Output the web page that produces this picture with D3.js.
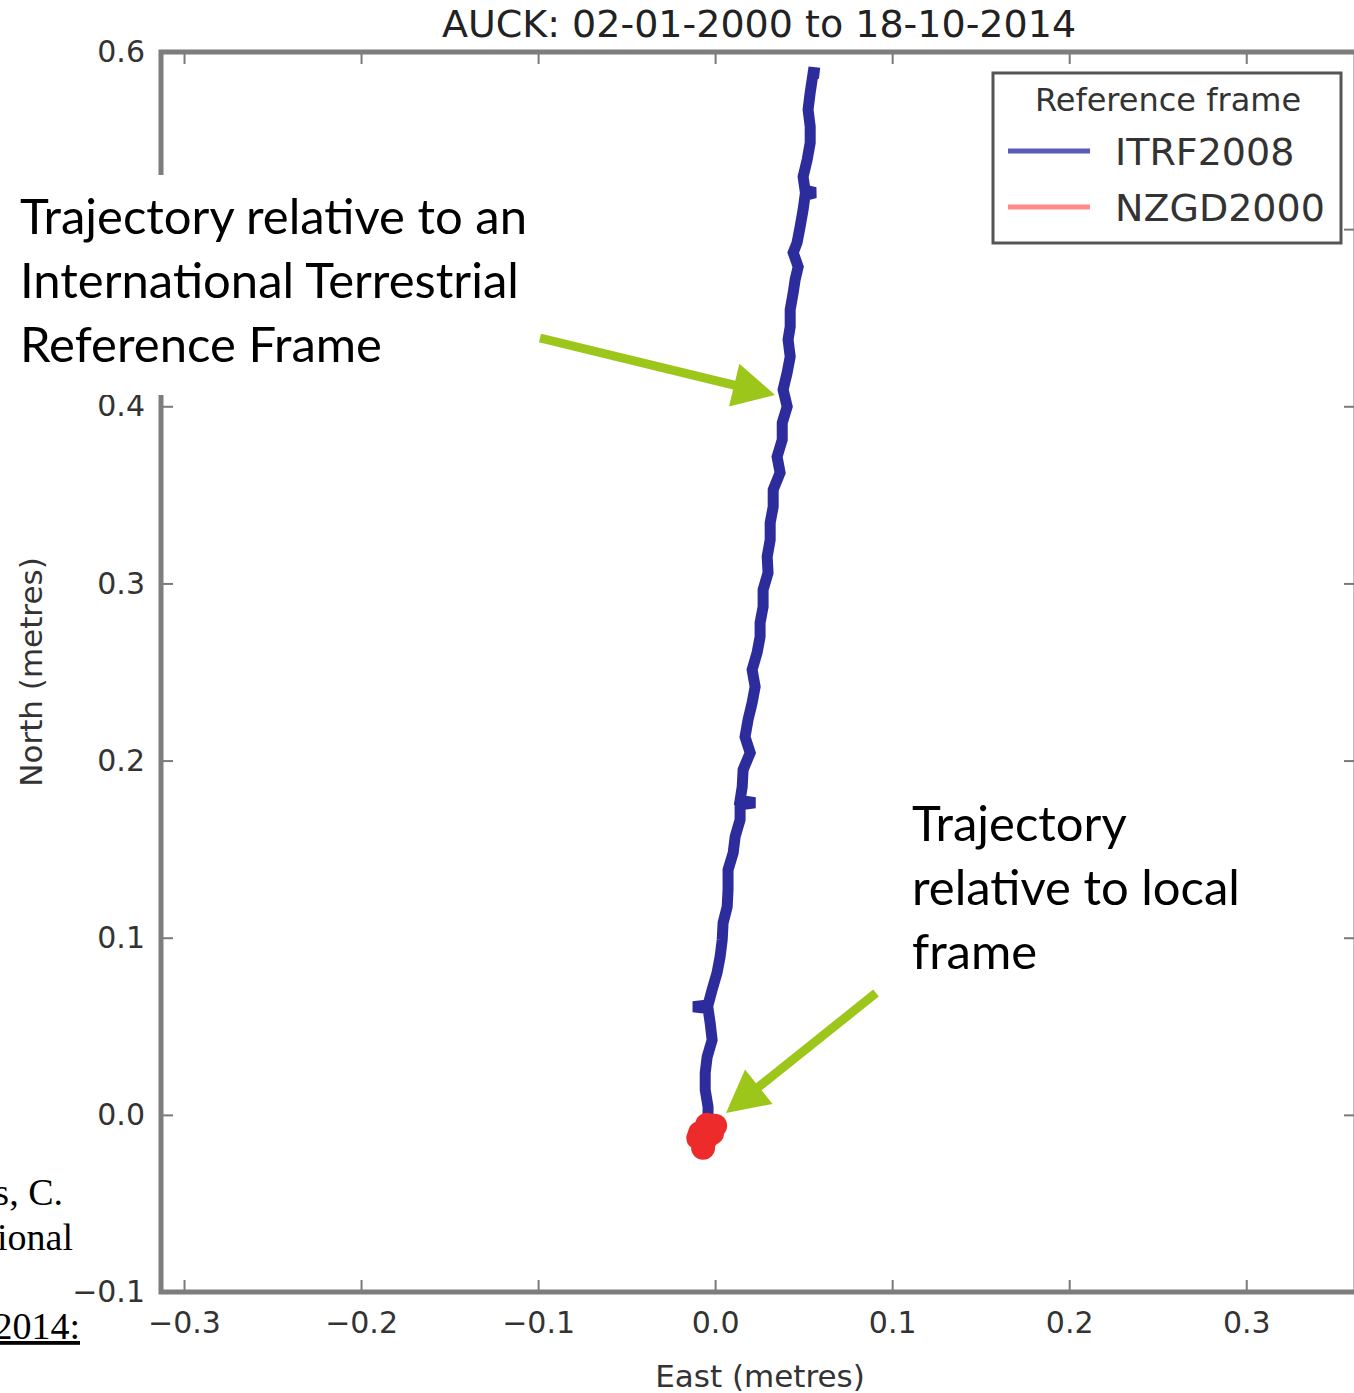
<!DOCTYPE html>
<html>
<head>
<meta charset="utf-8">
<script src="https://cdn.jsdelivr.net/npm/d3@7"></script>
<style>
  body { margin: 0; background: #fff; }
  svg { display: block; }
</style>
</head>
<body>
<div id="chart"></div>
<script>
const chartTitle = "AUCK: 02-01-2000 to 18-10-2014";
const xLabel = "East (metres)";
const yLabel = "North (metres)";
const xTicks = [-0.3, -0.2, -0.1, 0.0, 0.1, 0.2, 0.3];
const yTicks = [-0.1, 0.0, 0.1, 0.2, 0.3, 0.4, 0.5, 0.6];
const hiddenYLabels = [0.5]; // covered by the annotation box in the original
const legendTitle = "Reference frame";
const seriesNames = ["ITRF2008", "NZGD2000"];

// [east, north] in metres (oldest first)
const itrf2008 = [
  [-0.004, 0.000], [-0.004, 0.0045], [-0.0056, 0.0141], [-0.0056, 0.0237],
  [-0.0045, 0.0327], [-0.0017, 0.0423], [-0.0028, 0.0519], [-0.004, 0.0600],
  [-0.0124, 0.0610], [-0.004, 0.0620], [-0.0017, 0.0706], [0.0011, 0.0802],
  [0.0028, 0.0892], [0.0040, 0.0988], [0.0045, 0.1084], [0.0068, 0.1174],
  [0.0073, 0.1270], [0.0073, 0.1383], [0.0102, 0.1479], [0.0113, 0.1570],
  [0.0141, 0.1666], [0.0141, 0.1750], [0.0225, 0.1762], [0.0141, 0.1775],
  [0.0153, 0.1852], [0.0158, 0.1948], [0.0198, 0.2044], [0.0169, 0.2134],
  [0.0186, 0.2230], [0.0209, 0.2326], [0.0226, 0.2417], [0.0209, 0.2513],
  [0.0237, 0.2609], [0.0254, 0.2699], [0.0254, 0.2778], [0.0271, 0.2868],
  [0.0271, 0.2964], [0.0299, 0.3060], [0.0294, 0.3151], [0.0311, 0.3247],
  [0.0311, 0.3343], [0.0328, 0.3433], [0.0328, 0.3529], [0.0367, 0.3625],
  [0.0350, 0.3715], [0.0379, 0.3811], [0.0379, 0.3907], [0.0407, 0.3998],
  [0.0384, 0.4094], [0.0407, 0.4190], [0.0424, 0.4280], [0.0412, 0.4376],
  [0.0424, 0.4449], [0.0424, 0.4545], [0.0441, 0.4641], [0.0452, 0.4715],
  [0.0469, 0.4788], [0.0441, 0.4867], [0.0463, 0.4924], [0.0480, 0.5014],
  [0.0497, 0.5110], [0.0508, 0.5190], [0.0565, 0.5206], [0.0508, 0.5220],
  [0.0497, 0.5296], [0.0520, 0.5392], [0.0537, 0.5488], [0.0537, 0.5579],
  [0.0525, 0.5675], [0.0537, 0.5771], [0.0554, 0.5884], [0.0590, 0.5880]
];

const nzgd2000 = [
  [-0.0045, -0.0056], [-0.0085, -0.0102], [-0.0017, -0.0102],
  [-0.0050, -0.0110], [-0.0056, -0.0141], [-0.0068, -0.0186],
  [0.0000, -0.0062], [-0.0095, -0.0130]
];

const width = 1354, height = 1393;
const plot = { left: 161, top: 52, right: 1356, bottom: 1292 };
const tickFont = "'DejaVu Sans', sans-serif";
const noteFont = "Lato, 'Open Sans', sans-serif";

const x = d3.scaleLinear().domain([-0.313, 0.362]).range([plot.left, plot.right]);
const y = d3.scaleLinear().domain([-0.1, 0.6]).range([plot.bottom, plot.top]);
const fmt = d3.format(".1f");

const svg = d3.select("#chart").append("svg")
  .attr("width", width)
  .attr("height", height)
  .attr("viewBox", `0 0 ${width} ${height}`);

function styleAxis(g) {
  g.select(".domain").remove();
  g.selectAll(".tick line").attr("stroke", "#7a7a7a").attr("stroke-width", 2);
  g.selectAll(".tick text")
    .attr("fill", "#333")
    .style("font-family", tickFont)
    .style("font-size", "30px");
}

// axes, ticks pointing inwards like old matplotlib
svg.append("g")
  .attr("transform", `translate(0,${plot.bottom})`)
  .call(d3.axisBottom(x).tickValues(xTicks).tickSize(-12).tickPadding(20).tickFormat(fmt))
  .call(styleAxis);
svg.append("g")
  .attr("transform", `translate(0,${plot.top})`)
  .call(d3.axisTop(x).tickValues(xTicks).tickSize(-12).tickFormat(""))
  .call(styleAxis);
svg.append("g")
  .attr("transform", `translate(${plot.left},0)`)
  .call(d3.axisLeft(y).tickValues(yTicks).tickSize(-12).tickPadding(16)
    .tickFormat(d => hiddenYLabels.includes(d) ? "" : fmt(d)))
  .call(styleAxis);
svg.append("g")
  .attr("transform", `translate(${plot.right},0)`)
  .call(d3.axisRight(y).tickValues(yTicks).tickSize(-12).tickFormat(""))
  .call(styleAxis);

svg.append("rect")
  .attr("x", plot.left)
  .attr("y", plot.top)
  .attr("width", plot.right - plot.left)
  .attr("height", plot.bottom - plot.top)
  .attr("fill", "none")
  .attr("stroke", "#7d7d7d")
  .attr("stroke-width", 5);

// trajectories
const line = d3.line().x(d => x(d[0])).y(d => y(d[1]));
svg.append("path")
  .datum(itrf2008)
  .attr("d", line)
  .attr("fill", "none")
  .attr("stroke", "#2c2c9c")
  .attr("stroke-width", 11)
  .attr("stroke-linejoin", "miter")
  .attr("stroke-miterlimit", 2);

svg.append("g")
  .selectAll("circle")
  .data(nzgd2000)
  .join("circle")
  .attr("cx", d => x(d[0]))
  .attr("cy", d => y(d[1]))
  .attr("r", 12)
  .attr("fill", "#ee2b2b");

// title + axis labels
svg.append("text")
  .attr("x", 759).attr("y", 37)
  .attr("text-anchor", "middle")
  .attr("fill", "#222")
  .style("font-family", tickFont)
  .style("font-size", "38px")
  .text(chartTitle);
svg.append("text")
  .attr("x", 760).attr("y", 1387)
  .attr("text-anchor", "middle")
  .attr("fill", "#333")
  .style("font-family", tickFont)
  .style("font-size", "31px")
  .text(xLabel);
svg.append("text")
  .attr("transform", "translate(42,672) rotate(-90)")
  .attr("text-anchor", "middle")
  .attr("fill", "#333")
  .style("font-family", tickFont)
  .style("font-size", "31px")
  .text(yLabel);

// legend
const legend = svg.append("g");
legend.append("rect")
  .attr("x", 993).attr("y", 73).attr("width", 348).attr("height", 170)
  .attr("fill", "#fff").attr("stroke", "#555").attr("stroke-width", 3);
legend.append("text")
  .attr("x", 1168).attr("y", 111)
  .attr("text-anchor", "middle")
  .attr("fill", "#333")
  .style("font-family", tickFont)
  .style("font-size", "32px")
  .text(legendTitle);
const legendColors = ["#5a5ab8", "#ff8a8a"];
seriesNames.forEach((name, i) => {
  const ly = 151 + i * 56;
  legend.append("line")
    .attr("x1", 1008).attr("x2", 1090).attr("y1", ly).attr("y2", ly)
    .attr("stroke", legendColors[i]).attr("stroke-width", 5);
  legend.append("text")
    .attr("x", 1115).attr("y", ly + 14)
    .attr("fill", "#333")
    .style("font-family", tickFont)
    .style("font-size", "38px")
    .text(name);
});

// cut-off document text on the left
const sideText = [["s, C.", 63, 1205, false], ["ional", 73, 1250, false], ["2014:", 80, 1339, true]];
sideText.forEach(([t, tx, ty, u]) => {
  svg.append("text")
    .attr("x", tx).attr("y", ty)
    .attr("text-anchor", "end")
    .attr("fill", "#000")
    .style("font-family", "'Liberation Serif', serif")
    .style("font-size", "38px")
    .style("text-decoration", u ? "underline" : null)
    .text(t);
});

// annotations
svg.append("rect")
  .attr("x", 0).attr("y", 175).attr("width", 535).attr("height", 220)
  .attr("fill", "#fff");

function note(lines, nx, ny) {
  lines.forEach((t, i) => {
    svg.append("text")
      .attr("x", nx).attr("y", ny + i * 64)
      .attr("fill", "#000")
      .style("font-family", noteFont)
      .style("font-size", "49px")
      .text(t);
  });
}
note(["Trajectory relative to an", "International Terrestrial", "Reference Frame"], 20, 234);
note(["Trajectory", "relative to local", "frame"], 912, 841);

function arrow(x1, y1, x2, y2) {
  const len = Math.hypot(x2 - x1, y2 - y1);
  const ux = (x2 - x1) / len, uy = (y2 - y1) / len;
  const px = -uy, py = ux;
  const shaft = 4.5, head = 42, half = 22;
  const bx = x2 - ux * head, by = y2 - uy * head;
  const pts = [
    [x1 + px * shaft, y1 + py * shaft],
    [bx + px * shaft, by + py * shaft],
    [bx + px * half, by + py * half],
    [x2, y2],
    [bx - px * half, by - py * half],
    [bx - px * shaft, by - py * shaft],
    [x1 - px * shaft, y1 - py * shaft]
  ];
  svg.append("polygon")
    .attr("points", pts.map(p => p.join(",")).join(" "))
    .attr("fill", "#9dc61a");
}
arrow(540, 338, 775, 395);
arrow(876, 993, 726, 1113);
</script>
</body>
</html>
